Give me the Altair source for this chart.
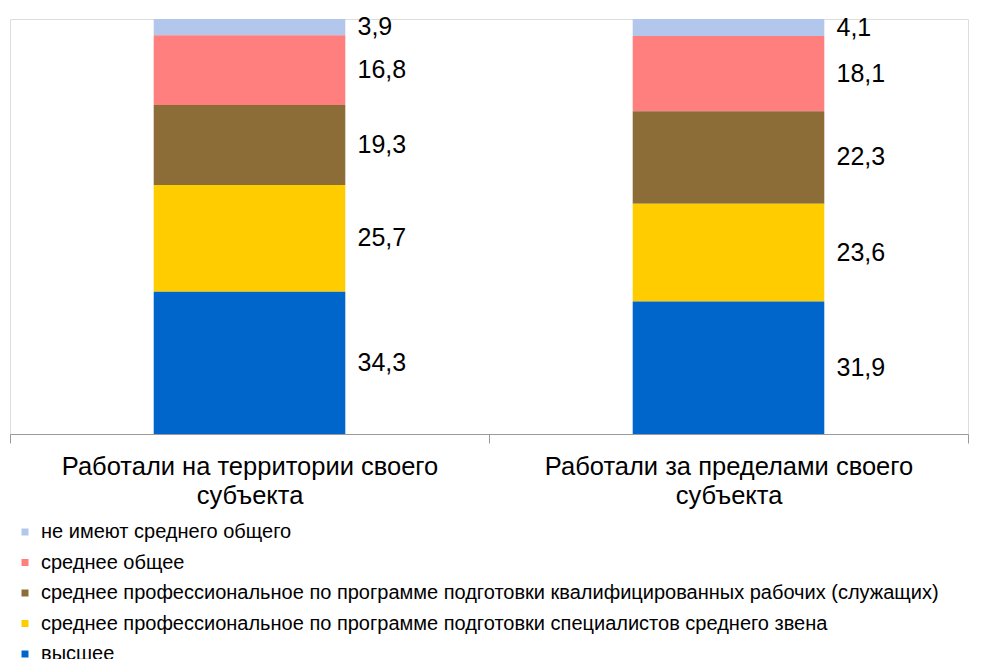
import altair as alt
import pandas as pd

categories = [
    "Работали на территории своего субъекта",
    "Работали за пределами своего субъекта",
]
levels = [
    "не имеют среднего общего",
    "среднее общее",
    "среднее профессиональное по программе подготовки квалифицированных рабочих (служащих)",
    "среднее профессиональное по программе подготовки специалистов среднего звена",
    "высшее",
]
colors = ["#B3C6EC", "#FF7F7F", "#8C6D38", "#FFCC00", "#0066CC"]
values_home = [3.9, 16.8, 19.3, 25.7, 34.3]
values_away = [4.1, 18.1, 22.3, 23.6, 31.9]

rows = []
for cat, vals in zip(categories, [values_home, values_away]):
    for i, (lev, v) in enumerate(zip(levels, vals)):
        rows.append({"cat": cat, "level": lev, "value": v, "ord": len(levels) - 1 - i})
df = pd.DataFrame(rows)

FONT = "Liberation Sans"

label_expr = (
    "[slice(datum.label, 0, lastindexof(datum.label, ' ')), "
    "slice(datum.label, lastindexof(datum.label, ' ') + 1)]"
)

x_axis = alt.Axis(
    title=None,
    labelAngle=0,
    tickBand="extent",
    labelExpr=label_expr,
    labelFontSize=25.5,
    labelFont=FONT,
    labelColor="#000000",
    labelLineHeight=29,
    labelPadding=11,
    labelLimit=600,
    tickSize=9,
    tickColor="#999999",
    domainColor="#999999",
    grid=False,
)

x_enc = alt.X(
    "cat:N",
    sort=categories,
    scale=alt.Scale(paddingInner=0, paddingOuter=0),
    axis=x_axis,
)

base = alt.Chart(df)

bars = base.mark_bar(width=alt.RelativeBandSize(0.4)).encode(
    x=x_enc,
    y=alt.Y("value:Q", stack="zero", scale=alt.Scale(domain=[0, 100], nice=False), axis=None),
    color=alt.Color(
        "level:N",
        scale=alt.Scale(domain=levels, range=colors),
        legend=alt.Legend(
            title=None,
            orient="none",
            legendX=5,
            legendY=503,
            direction="vertical",
            symbolType="square",
            symbolSize=49,
            symbolStrokeWidth=0,
            labelFontSize=20,
            labelFont=FONT,
            labelColor="#000000",
            labelOffset=6,
            labelLimit=1000,
            rowPadding=10.5,
        ),
    ),
    order=alt.Order("ord:Q", sort="ascending"),
)

text = (
    base.transform_stack(
        stack="value",
        as_=["y0", "y1"],
        groupby=["cat"],
        sort=[alt.SortField("ord", order="ascending")],
    )
    .transform_calculate(
        mid="(datum.y0 + datum.y1) / 2",
        lbl="replace(format(datum.value, '.1f'), '.', ',')",
    )
    .mark_text(align="left", baseline="middle", dx=108, fontSize=25, font=FONT, color="#000000")
    .encode(
        x=alt.X("cat:N", sort=categories, axis=x_axis),
        y=alt.Y("mid:Q", axis=None),
        text="lbl:N",
    )
)

chart = (
    alt.layer(bars, text)
    .properties(
        width=958,
        height=415,
        autosize=alt.AutoSizeParams(type="none"),
        padding={"left": 2, "top": 11, "right": 29, "bottom": 230},
    )
    .configure_view(strokeWidth=0, stroke="transparent", fill="transparent")
    .configure_axis(grid=False)
    .configure_axisY(domain=False, ticks=False, labels=False)
    .configure(font=FONT)
)

chart.save("out.html", embed_options={"renderer": "svg", "actions": False})
